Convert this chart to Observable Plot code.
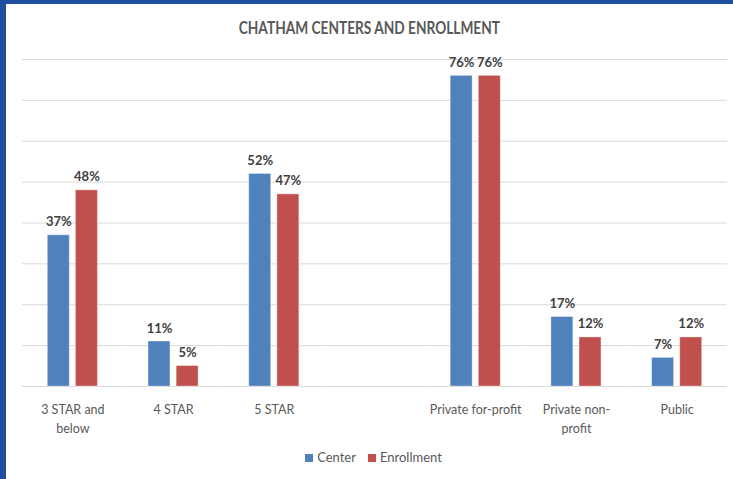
<!DOCTYPE html>
<html>
<head>
<meta charset="utf-8">
<script src="https://cdn.jsdelivr.net/npm/d3@7"></script>
<script src="https://cdn.jsdelivr.net/npm/@observablehq/plot@0.6"></script>
<style>
  html, body { margin: 0; padding: 0; background: #fff; }
  #wrap {
    width: 733px; height: 479px; box-sizing: border-box;
    border-top: 4px solid #1f4f9f; border-left: 6px solid #1f4f9f;
    font-family: Lato, "Open Sans", sans-serif; overflow: hidden;
  }
  #title {
    height: 46px; box-sizing: border-box; padding-top: 14px; line-height: 20px;
    text-align: center; font-weight: bold; font-size: 16.5px; color: #595959;
  }
  #title span { display: inline-block; transform: scaleX(0.83); transform-origin: center; }
  #legend {
    display: flex; justify-content: center; align-items: center; gap: 12px;
    font-size: 13px; color: #595959; height: 14px; line-height: 14px; padding-left: 8px;
  }
  #legend span.sw { display: inline-block; width: 8px; height: 8px; margin-right: 4px; }
</style>
</head>
<body>
<div id="wrap">
  <div id="title"><span>CHATHAM CENTERS AND ENROLLMENT</span></div>
  <div id="chart"></div>
  <div id="legend"></div>
</div>
<script>
const categories = ["3 STAR and\nbelow", "4 STAR", "5 STAR", " ", "Private for-profit", "Private non-\nprofit", "Public"];
const series = ["Center", "Enrollment"];
const centerValues = [37, 11, 52, null, 76, 17, 7];
const enrollmentValues = [48, 5, 47, null, 76, 12, 12];
const gridTicks = [0, 10, 20, 30, 40, 50, 60, 70, 80];
const colors = ["#4f81bd", "#c0504d"];

const data = [];
categories.forEach((c, i) => {
  data.push({category: c, series: "Center", value: centerValues[i]});
  data.push({category: c, series: "Enrollment", value: enrollmentValues[i]});
});
const labeled = data.filter(d => d.value != null);

const chart = Plot.plot({
  width: 727,
  height: 400,
  marginTop: 9,
  marginBottom: 64,
  marginLeft: 16,
  marginRight: 6,
  style: {fontFamily: "Lato, 'Open Sans', sans-serif", background: "#fff"},
  fx: {domain: categories, padding: 0, axis: null, round: false},
  x: {domain: series, paddingInner: 0.22, paddingOuter: 0.9, axis: null, round: false},
  y: {domain: [0, 80], axis: null},
  color: {domain: series, range: colors},
  marks: [
    Plot.ruleY(gridTicks, {y: d => d, stroke: "#d9d9d9", strokeWidth: 1}),
    Plot.barY(data, {fx: "category", x: "series", y: "value", fill: "series", stroke: "#ffffff", strokeOpacity: 0.35, strokeWidth: 1}),
    Plot.text(labeled, {fx: "category", x: "series", y: "value", text: d => d.value + "%", dy: -9, lineAnchor: "bottom", fill: "#404040", fontWeight: "bold", fontSize: 13}),
    Plot.text(categories.map(c => ({category: c})), {fx: "category", y: () => 0, frameAnchor: "middle", text: "category", dy: 14, lineAnchor: "top", lineHeight: 1.5, fill: "#595959", fontSize: 12.5})
  ]
});
document.getElementById("chart").appendChild(chart);

const legend = document.getElementById("legend");
series.forEach((s, i) => {
  const item = document.createElement("div");
  item.innerHTML = `<span class="sw" style="background:${colors[i]}"></span>${s}`;
  legend.appendChild(item);
});
</script>
</body>
</html>
